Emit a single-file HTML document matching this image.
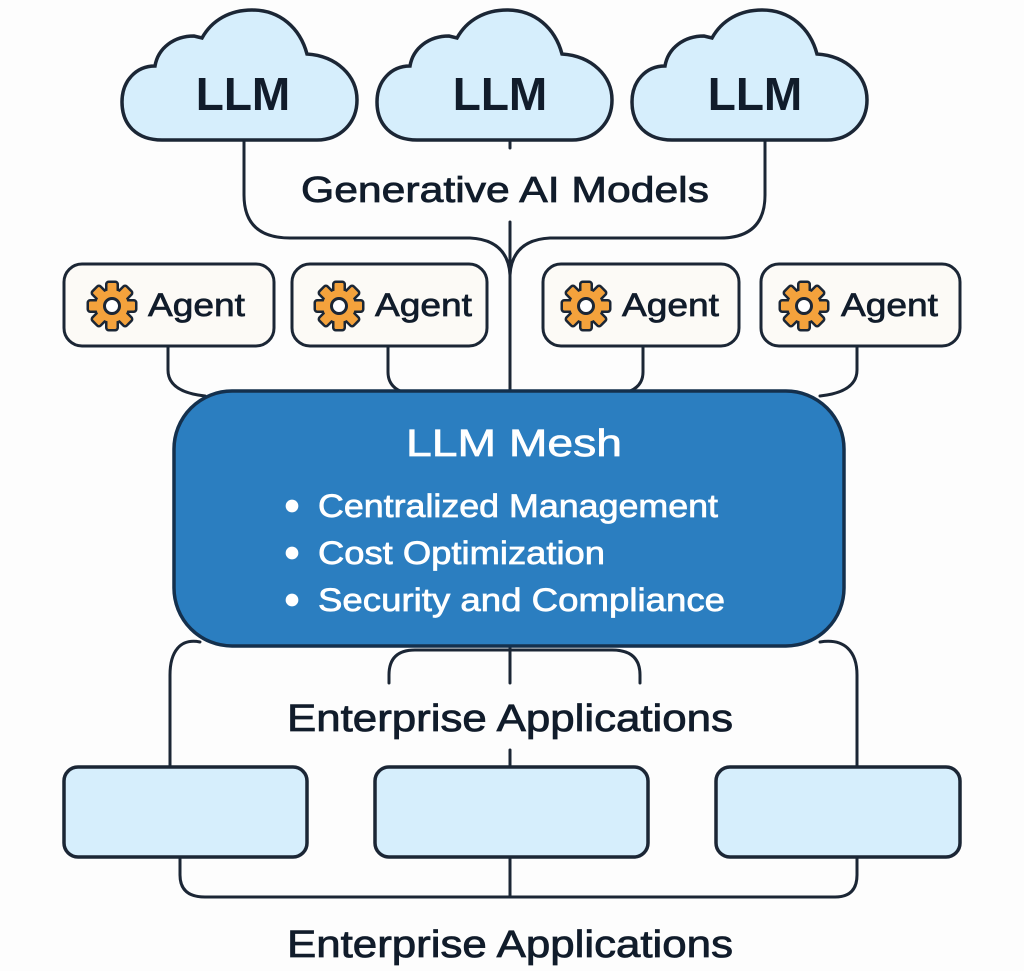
<!DOCTYPE html>
<html><head><meta charset="utf-8"><style>
html,body{margin:0;padding:0;background:#fdfdfd;}
svg{display:block;}
text{font-family:"Liberation Sans","DejaVu Sans",sans-serif;}
</style></head><body>
<svg width="1024" height="971" viewBox="0 0 1024 971" xmlns="http://www.w3.org/2000/svg">
<defs>
<path id="cloud" d="M40,132 C15,132 0,117 0,94 C0,73 14,58 33,58 C36,40 52,28 72,28 L80,30 C90,12 108,2 130,2 C158,2 178,20 185,46 C215,48 235,68 235,92 C235,115 218,132 195,132 Z"/>
<g id="gs">
<circle r="16"/>
<rect x="-4.5" y="-23" width="9" height="10" rx="1.2"/>
<rect x="-4.5" y="-23" width="9" height="10" rx="1.2" transform="rotate(45)"/>
<rect x="-4.5" y="-23" width="9" height="10" rx="1.2" transform="rotate(90)"/>
<rect x="-4.5" y="-23" width="9" height="10" rx="1.2" transform="rotate(135)"/>
<rect x="-4.5" y="-23" width="9" height="10" rx="1.2" transform="rotate(180)"/>
<rect x="-4.5" y="-23" width="9" height="10" rx="1.2" transform="rotate(225)"/>
<rect x="-4.5" y="-23" width="9" height="10" rx="1.2" transform="rotate(270)"/>
<rect x="-4.5" y="-23" width="9" height="10" rx="1.2" transform="rotate(315)"/>
</g>
<g id="gear">
<use href="#gs" fill="#1b2635" stroke="#1b2635" stroke-width="5" stroke-linejoin="round"/>
<use href="#gs" fill="#f4a23c"/>
<circle r="7.5" fill="#fff" stroke="#1b2635" stroke-width="3"/>
</g>
</defs>
<g fill="none" stroke="#1b2635" stroke-width="3" stroke-linecap="round">
<path d="M244,140 V195 Q244,238 290,238 H470 Q508,240 510,275"/>
<path d="M765,140 V195 Q765,238 720,238 H550 Q512,240 510,275"/>
<path d="M510,140 V148 M510,222 V395"/>
<path d="M168,346 V370 Q168,392 205,396"/>
<path d="M388,346 V372 Q388,390 410,394"/>
<path d="M643,346 V372 Q643,390 620,394"/>
<path d="M857,346 V370 Q857,392 820,396"/>
<path d="M200,642 C180,638 170,652 170,675 V767"/>
<path d="M820,642 C845,638 857,652 857,675 V767"/>
<path d="M389,683 V675 Q389,650 415,650 H612 Q640,650 640,675 V683"/>
<path d="M510,646 V683 M510,750 V767"/>
<path d="M180,857 V875 Q180,897 205,897 H835 Q857,897 857,875 V857 M510,857 V897"/>
</g>
<g fill="#d6eefc" stroke="#1b2635" stroke-width="3.5">
<use href="#cloud" transform="translate(122,8)"/>
<use href="#cloud" transform="translate(377,8)"/>
<use href="#cloud" transform="translate(632,8)"/>
</g>
<g font-weight="bold" font-size="46" fill="#111c2b" text-anchor="middle">
<text x="243" y="110">LLM</text>
<text x="500" y="110">LLM</text>
<text x="755" y="110">LLM</text>
</g>
<g fill="#111c2b" stroke="#111c2b" stroke-width="0.8">
<text x="505" y="202" font-size="36" text-anchor="middle" textLength="408" lengthAdjust="spacingAndGlyphs">Generative AI Models</text>
</g>
<g fill="#fcfaf6" stroke="#1b2635" stroke-width="3">
<rect x="64" y="264" width="210" height="82" rx="18"/>
<rect x="292" y="264" width="195" height="82" rx="18"/>
<rect x="543" y="264" width="196" height="82" rx="18"/>
<rect x="761" y="264" width="199" height="82" rx="18"/>
</g>
<use href="#gear" x="112" y="306"/>
<use href="#gear" x="339" y="306"/>
<use href="#gear" x="586" y="306"/>
<use href="#gear" x="804" y="306"/>
<g font-size="32" fill="#111c2b" stroke="#111c2b" stroke-width="0.7">
<text x="148" y="316" textLength="97" lengthAdjust="spacingAndGlyphs">Agent</text>
<text x="375" y="316" textLength="97" lengthAdjust="spacingAndGlyphs">Agent</text>
<text x="622" y="316" textLength="97" lengthAdjust="spacingAndGlyphs">Agent</text>
<text x="841" y="316" textLength="97" lengthAdjust="spacingAndGlyphs">Agent</text>
</g>
<rect x="174" y="391" width="670" height="255" rx="58" fill="#2b7ec0" stroke="#14304d" stroke-width="3.5"/>
<g fill="#fff" stroke="#fff" stroke-width="0.7">
<text x="514" y="456" font-size="38" text-anchor="middle" textLength="216" lengthAdjust="spacingAndGlyphs">LLM Mesh</text>
<circle cx="292" cy="506" r="6"/><circle cx="292" cy="553" r="6"/><circle cx="292" cy="600" r="6"/>
<g font-size="32">
<text x="318" y="517" textLength="400" lengthAdjust="spacingAndGlyphs">Centralized Management</text>
<text x="318" y="564" textLength="287" lengthAdjust="spacingAndGlyphs">Cost Optimization</text>
<text x="318" y="611" textLength="407" lengthAdjust="spacingAndGlyphs">Security and Compliance</text>
</g></g>
<g fill="#111c2b" stroke="#111c2b" stroke-width="0.8">
<text x="510" y="731" font-size="38" text-anchor="middle" textLength="446" lengthAdjust="spacingAndGlyphs">Enterprise Applications</text>
</g>
<g fill="#d6eefc" stroke="#1b2635" stroke-width="3.5">
<rect x="64" y="767" width="243" height="90" rx="14"/>
<rect x="375" y="767" width="273" height="90" rx="14"/>
<rect x="716" y="767" width="244" height="90" rx="14"/>
</g>
<g fill="#111c2b" stroke="#111c2b" stroke-width="0.8">
<text x="510" y="957" font-size="38" text-anchor="middle" textLength="446" lengthAdjust="spacingAndGlyphs">Enterprise Applications</text>
</g>
</svg>
</body></html>
